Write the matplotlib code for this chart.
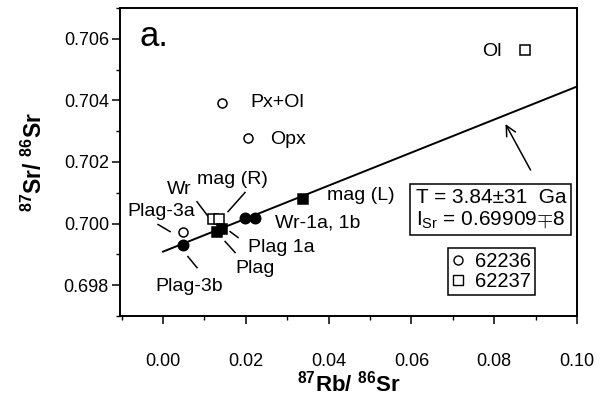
import matplotlib
matplotlib.use("Agg")
import matplotlib.pyplot as plt
from matplotlib.lines import Line2D
from matplotlib.ticker import MultipleLocator, FormatStrFormatter

plt.rcParams['font.family'] = ['Liberation Sans', 'DejaVu Sans']
plt.rcParams['mathtext.fontset'] = 'custom'
plt.rcParams['mathtext.rm'] = 'Liberation Sans'
plt.rcParams['mathtext.bf'] = 'Liberation Sans:bold'
plt.rcParams['mathtext.it'] = 'Liberation Sans:italic'

# --- data ---
sample_names = ["Ol", "Px+Ol", "Opx", "Wr", "mag (R)", "Plag-3a",
                "Wr-1a", "Wr-1b", "mag (L)", "Plag 1a", "Plag", "Plag-3b"]
rb_sr = [0.0875, 0.0143, 0.0206, 0.0121, 0.0136, 0.0048,
         0.0199, 0.0221, 0.0339, 0.0143, 0.0131, 0.0048]
sr_sr = [0.70565, 0.70390, 0.70277, 0.70016, 0.70016, 0.69974,
         0.70019, 0.70019, 0.70081, 0.69981, 0.69974, 0.69929]
rock = ["62237", "62236", "62236", "62237", "62237", "62236",
        "62236", "62236", "62237", "62237", "62237", "62236"]
on_isochron = [False, False, False, False, False, False,
               True, True, True, True, True, True]

# isochron fit
isochron_x = [0.0, 0.10]
isochron_intercept = 0.69909
isochron_slope = 0.0536

# label text positions (left edge, centre) and leader lines
label_pos = {
    "Ol": (0.0770, 0.70558),
    "Px+Ol": (0.0210, 0.70393),
    "Opx": (0.0258, 0.70273),
    "mag (R)": (0.0082, 0.70143),
    "Wr": (0.0010, 0.70110),
    "Plag-3a": (-0.0085, 0.70039),
    "Wr-1a, 1b": (0.0270, 0.70003),
    "mag (L)": (0.0396, 0.70090),
    "Plag 1a": (0.0205, 0.69922),
    "Plag": (0.0174, 0.69854),
    "Plag-3b": (-0.0019, 0.69795),
}
leaders = [
    ((0.0082, 0.70071), (0.0109, 0.70023)),
    ((0.0198, 0.70101), (0.0157, 0.70039)),
    ((-0.0012, 0.69997), (0.0017, 0.69974)),
    ((0.0162, 0.69974), (0.0181, 0.69955)),
    ((0.0150, 0.69942), (0.0174, 0.69906)),
    ((0.0060, 0.69893), (0.0082, 0.69857)),
]

fig = plt.figure(figsize=(6.12, 3.96), dpi=100)
ax = fig.add_axes([120 / 612, 1 - 316 / 396, 457 / 612, 308 / 396])

# isochron line
ax.plot(isochron_x, [isochron_intercept + isochron_slope * x for x in isochron_x],
        color="black", lw=1.4, zorder=2)

for x, y, r, filled in zip(rb_sr, sr_sr, rock, on_isochron):
    marker = "o" if r == "62236" else "s"
    ax.plot(x, y, marker=marker, ms=7.5 if filled else 6.5, mew=1.1,
            mec="black", mfc="black" if filled else "white", ls="none", zorder=3)

for name, (tx, ty) in label_pos.items():
    ax.text(tx, ty, name, fontsize=14, ha="left", va="center")

for (x0, y0), (x1, y1) in leaders:
    ax.plot([x0, x1], [y0, y1], color="black", lw=1.1)

ax.text(-0.0056, 0.70575, "a.", fontsize=25, ha="left", va="baseline")

# arrow to the isochron
ax.annotate("", xy=(0.0824, 0.70331), xytext=(0.0891, 0.70166),
            arrowprops=dict(arrowstyle="->", color="black", lw=1.1,
                            mutation_scale=18))

ax.text(0.0610, 0.70117, "T = 3.84\u00b131  Ga\n$\\mathregular{I_{Sr}}$ = 0.69909$\\mp$8",
        fontsize=15, ha="left", va="top", linespacing=1.15,
        bbox=dict(boxstyle="square,pad=0.25", fc="white", ec="black", lw=1.1))

handles = [Line2D([], [], marker="o", ls="none", mfc="white", mec="black", ms=6.5),
           Line2D([], [], marker="s", ls="none", mfc="white", mec="black", ms=6.5)]
leg = ax.legend(handles, ["62236", "62237"], loc="upper left",
                bbox_to_anchor=(0.7177, 0.2208), borderaxespad=0, fontsize=14.5,
                handlelength=0.6, handletextpad=0.55, borderpad=0.2,
                labelspacing=0.05, fancybox=False, framealpha=1, edgecolor="black")
leg.get_frame().set_linewidth(1.1)

ax.set_xlim(-0.0104, 0.100)
ax.set_ylim(0.697, 0.707)
ax.xaxis.set_major_locator(MultipleLocator(0.02))
ax.xaxis.set_minor_locator(MultipleLocator(0.01))
ax.yaxis.set_major_locator(MultipleLocator(0.002))
ax.yaxis.set_minor_locator(MultipleLocator(0.001))
ax.xaxis.set_major_formatter(FormatStrFormatter("%.2f"))
ax.yaxis.set_major_formatter(FormatStrFormatter("%.3f"))
ax.tick_params(which="major", direction="out", length=6, width=1.1, labelsize=13)
ax.tick_params(which="minor", direction="out", length=3, width=1.0)
ax.tick_params(axis="x", which="major", pad=21)
ax.tick_params(axis="y", which="major", pad=2)
for s in ax.spines.values():
    s.set_linewidth(1.4)

ax.set_xlabel(r"$\mathbf{^{87}Rb/\ ^{86}Sr}$", fontsize=16, labelpad=0)
ax.set_ylabel(r"$\mathbf{^{87}Sr/\ ^{86}Sr}$", fontsize=16.5, labelpad=12)

fig.savefig("out.png", dpi=100)
